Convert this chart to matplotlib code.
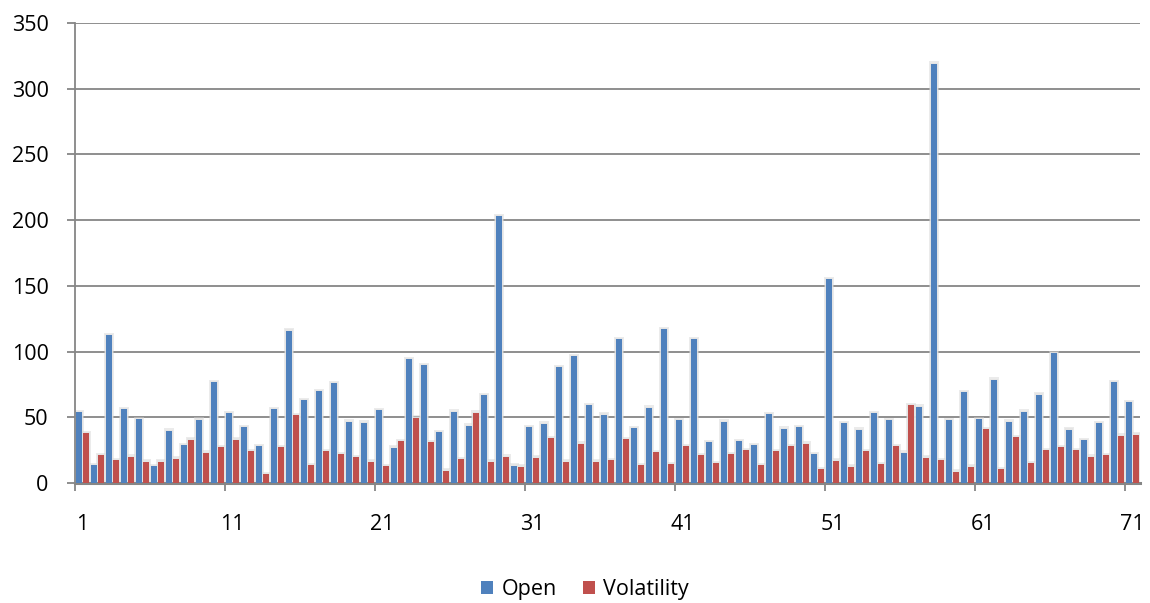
import numpy as np
import matplotlib
matplotlib.use("Agg")
import matplotlib.pyplot as plt
from matplotlib.patches import Patch

plt.rcParams['font.family'] = ['Open Sans', 'DejaVu Sans']

categories = list(range(1, 72))
open_vals = [54, 13.5, 112.5, 56, 48.5, 12.7, 39.7, 29, 48.3, 76.6,
             53.2, 42.5, 28, 56, 116, 63, 69.7, 76, 46.6, 45.8,
             55.2, 27, 94, 89.6, 38.7, 54.2, 43.5, 66.7, 203, 13.2,
             42.5, 45, 88.3, 96.7, 59, 52, 109.4, 41.7, 57.3, 117,
             47.6, 109.4, 31, 46.6, 32, 29, 52.2, 41.2, 42.5, 21.9,
             155, 45.5, 40.5, 53.2, 47.6, 23, 58, 319, 47.6, 69,
             48.6, 78.6, 46.6, 54.2, 67.2, 99, 40.7, 32.8, 45.5, 76.8,
             61.3]
volatility_vals = [37.7, 21, 17.5, 20, 16.3, 16.3, 18.6, 33, 23, 27.2,
                   33, 24.2, 6.6, 27.2, 51.4, 13.5, 24.2, 22, 19.6, 16.3,
                   12.7, 32, 49.6, 31, 9.4, 18.3, 53.4, 16.3, 20, 12.5,
                   19.3, 34, 16.3, 29.8, 16.3, 17.6, 33.3, 13.7, 23.4, 14.5,
                   28.2, 21.4, 15.3, 22.1, 25.2, 13.5, 24, 28, 29.8, 10.4,
                   17, 12.5, 24, 14.2, 28, 59, 19.3, 17.3, 8.7, 12.5,
                   41, 10.4, 34.9, 15.3, 25.2, 27.2, 25.2, 20, 21.1, 35.9,
                   36.9]
label_cats = [1, 11, 21, 31, 41, 51, 61, 71]
y_ticks = [0, 50, 100, 150, 200, 250, 300, 350]

BLUE = '#4F81BD'
RED = '#C0504D'
GRID = '#868686'

fig = plt.figure(figsize=(11.5, 6.03), dpi=100)
ax = fig.add_axes([75/1150, 1 - 483/603, (1140 - 75)/1150, (483 - 23)/603])

x = np.array(categories, dtype=float)
off = 0.235
w = 0.34

# soft glow behind bars
for dx, vals in ((-off, open_vals), (off, volatility_vals)):
    ax.bar(x + dx, np.array(vals) + 1.8, width=w + 0.36, color='#d4d4d4',
           alpha=0.45, zorder=2, linewidth=0)
    ax.bar(x + dx, np.array(vals) + 0.9, width=w + 0.18, color='#e4e4e4',
           alpha=0.8, zorder=2.1, linewidth=0)

ax.bar(x - off, open_vals, width=w, color=BLUE, zorder=3, linewidth=0, label='Open')
ax.bar(x + off, volatility_vals, width=w, color=RED, zorder=3, linewidth=0, label='Volatility')

ax.set_xlim(0.5, 71.5)
ax.set_ylim(0, 350)
ax.set_yticks(y_ticks)
ax.yaxis.grid(True, color=GRID, linewidth=1.3, zorder=1)
ax.set_axisbelow(True)

# x ticks: marks at category boundaries, labels at category centres
ax.set_xticks([c - 0.5 for c in label_cats])
ax.set_xticklabels([])
ax.set_xticks(label_cats, minor=True)
ax.set_xticklabels([str(c) for c in label_cats], minor=True)
ax.tick_params(axis='x', which='major', length=6, width=1.3, color=GRID, direction='out')
ax.tick_params(axis='x', which='minor', length=0, pad=22, labelsize=15.5)
ax.tick_params(axis='y', length=6, width=1.3, color=GRID, pad=13, labelsize=15.5)

for s in ('top', 'right'):
    ax.spines[s].set_visible(False)
ax.spines['left'].set_color(GRID)
ax.spines['left'].set_linewidth(1.3)
ax.spines['bottom'].set_color(GRID)
ax.spines['bottom'].set_linewidth(2.2)

handles = [Patch(facecolor=BLUE, label='Open'), Patch(facecolor=RED, label='Volatility')]
fig.legend(handles=handles, loc='center', bbox_to_anchor=(585/1150, 1 - 590/603),
           ncol=2, frameon=False, fontsize=15.5, handlelength=0.55, handleheight=0.55,
           handletextpad=0.4, columnspacing=1.2)

fig.savefig('out.png', dpi=100)
